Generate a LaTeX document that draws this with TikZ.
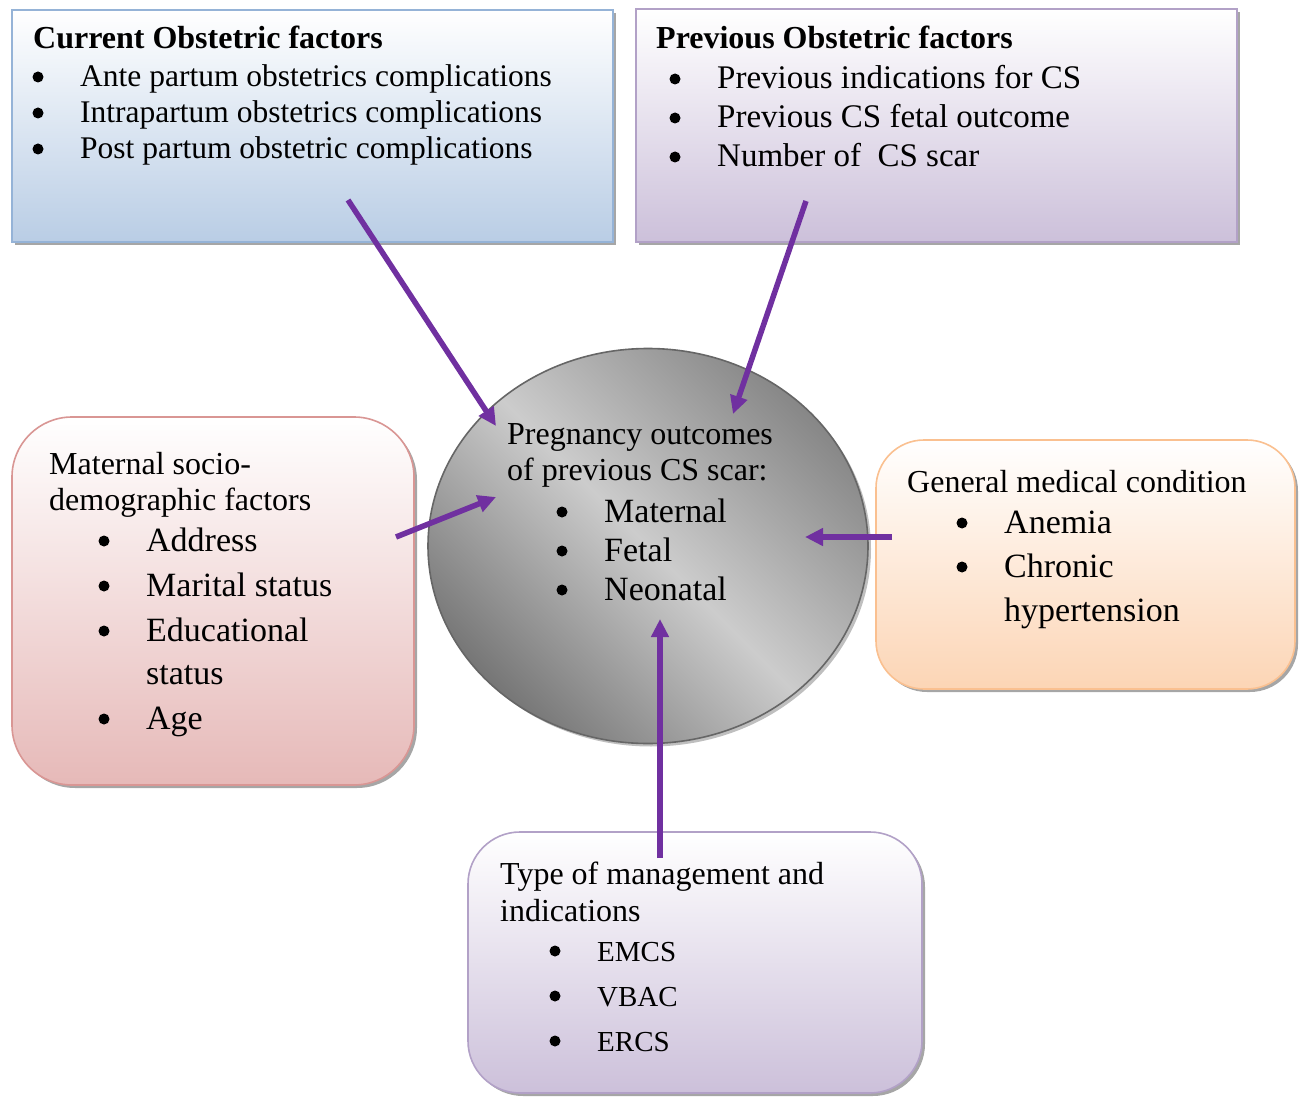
\documentclass[tikz,border=0pt]{standalone}
\usepackage{fontspec}
\setmainfont{Liberation Serif}
\usetikzlibrary{shapes.geometric,arrows.meta,shadows}

\definecolor{arrowpurple}{RGB}{112,48,160}
\definecolor{blueline}{RGB}{149,179,215}
\definecolor{bluefill}{RGB}{185,205,229}
\definecolor{lilacline}{RGB}{178,161,199}
\definecolor{lilacfill}{RGB}{204,192,218}
\definecolor{roseline}{RGB}{217,150,148}
\definecolor{rosefill}{RGB}{230,185,184}
\definecolor{peachline}{RGB}{250,192,144}
\definecolor{peachfill}{RGB}{252,213,181}
\definecolor{discdark}{RGB}{118,118,118}
\definecolor{disclight}{RGB}{204,204,204}
\definecolor{discedge}{RGB}{135,135,135}

\tikzset{
  box/.style={anchor=north west, inner sep=0pt, outer sep=0pt, line width=1.6pt,
    top color=white, drop shadow={shadow xshift=3pt, shadow yshift=-3pt, fill=black!35, opacity=1}},
  title/.style={anchor=base west, inner sep=0pt, font=\fontsize{32}{38}\selectfont},
  itm/.style={anchor=base west, inner sep=0pt, font=\fontsize{34}{40}\selectfont},
  conn/.style={draw=arrowpurple, line width=5.5pt, -{Triangle[length=18pt,width=17pt]}}
}

\newcommand{\bul}[1]{\fill ([shift={(-42pt,10pt)}]#1.base west) circle (5.5pt);}

\begin{document}
\begin{tikzpicture}[x=1pt,y=-1pt]
  \useasboundingbox (0,0) rectangle (1302,1097);

  % Current obstetric factors
  \node[box, draw=blueline, bottom color=bluefill, minimum width=601pt, minimum height=232pt] (cur) at (12,10) {};
  \node[title, font=\fontsize{32}{38}\selectfont\bfseries] (curT) at (33,49) {Current Obstetric factors};
  \foreach \t [count=\i] in {Ante partum obstetrics complications, Intrapartum obstetrics complications, Post partum obstetric complications} {
    \node[itm, font=\fontsize{31.5}{38}\selectfont] (cur\i) at (80,{51+36*\i}) {\t};
    \bul{cur\i}
  }

  % Previous obstetric factors
  \node[box, draw=lilacline, bottom color=lilacfill, minimum width=601pt, minimum height=233pt] (prev) at (636,9) {};
  \node[title, font=\fontsize{32}{38}\selectfont\bfseries] (prevT) at (656,49) {Previous Obstetric factors};
  \foreach \t [count=\i] in {Previous indications for CS, Previous CS fetal outcome, Number of\ \ CS scar} {
    \node[itm, font=\fontsize{33}{40}\selectfont] (prev\i) at (717,{50+39*\i}) {\t};
    \bul{prev\i}
  }

  % Pregnancy outcomes (centre)
  \node[ellipse, draw=black!60, line width=1.6pt, minimum width=440pt, minimum height=395pt,
    top color=discedge, bottom color=discdark, middle color=disclight, shading angle=-45,
    drop shadow={shadow xshift=3pt, shadow yshift=-3pt, fill=black!25, opacity=1}] (outc) at (648,546) {};
  \node[title] (outT1) at (507,444) {Pregnancy outcomes};
  \node[title] (outT2) at (507,480) {of previous CS scar:};
  \foreach \t [count=\i] in {Maternal, Fetal, Neonatal} {
    \node[itm] (out\i) at (604,{483+39*\i}) {\t};
    \bul{out\i}
  }

  % Maternal socio-demographic factors
  \node[box, draw=roseline, bottom color=rosefill, rounded corners=60pt, minimum width=402pt, minimum height=368pt] (socio) at (12,417) {};
  \node[title] (socT1) at (49,474) {Maternal socio-};
  \node[title] (socT2) at (49,510) {demographic factors};
  \node[itm] (soc1) at (146,551) {Address};
  \node[itm] (soc2) at (146,596) {Marital status};
  \node[itm] (soc3) at (146,641) {Educational};
  \node[itm] (soc3b) at (146,684) {status};
  \node[itm] (soc4) at (146,729) {Age};
  \foreach \n in {soc1,soc2,soc3,soc4} {\bul{\n}}

  % General medical condition
  \node[box, draw=peachline, bottom color=peachfill, rounded corners=48pt, minimum width=419pt, minimum height=249pt] (med) at (876,440) {};
  \node[title] (medT) at (907,492) {General medical condition};
  \node[itm] (med1) at (1004,533) {Anemia};
  \node[itm] (med2) at (1004,577) {Chronic};
  \node[itm] (med2b) at (1004,621) {hypertension};
  \bul{med1}
  \bul{med2}

  % Type of management
  \node[box, draw=lilacline, bottom color=lilacfill, rounded corners=52pt, minimum width=454pt, minimum height=261pt] (mgmt) at (468,832) {};
  \node[title] (mgT1) at (500,884) {Type of management and};
  \node[title] (mgT2) at (500,921) {indications};
  \foreach \t [count=\i] in {EMCS, VBAC, ERCS} {
    \node[itm, font=\fontsize{29}{35}\selectfont] (mg\i) at (597,{916+45*\i}) {\t};
    \bul{mg\i}
  }

  % Arrow ends
  \coordinate (curA) at (348,200);
  \coordinate (prevA) at (806,201);
  \coordinate (socA) at (396,537);
  \coordinate (medA) at (892,537);
  \coordinate (mgA) at (660,858);
  \coordinate (inCur) at (496,426);
  \coordinate (inPrev) at (733,414);
  \coordinate (inSoc) at (496,497);
  \coordinate (inMed) at (805,537);
  \coordinate (inMg) at (660,619);

  % Arrows
  \draw[conn] (curA) -- (inCur);
  \draw[conn] (prevA) -- (inPrev);
  \draw[conn] (socA) -- (inSoc);
  \draw[conn] (medA) -- (inMed);
  \draw[conn] (mgA) -- (inMg);
\end{tikzpicture}
\end{document}
